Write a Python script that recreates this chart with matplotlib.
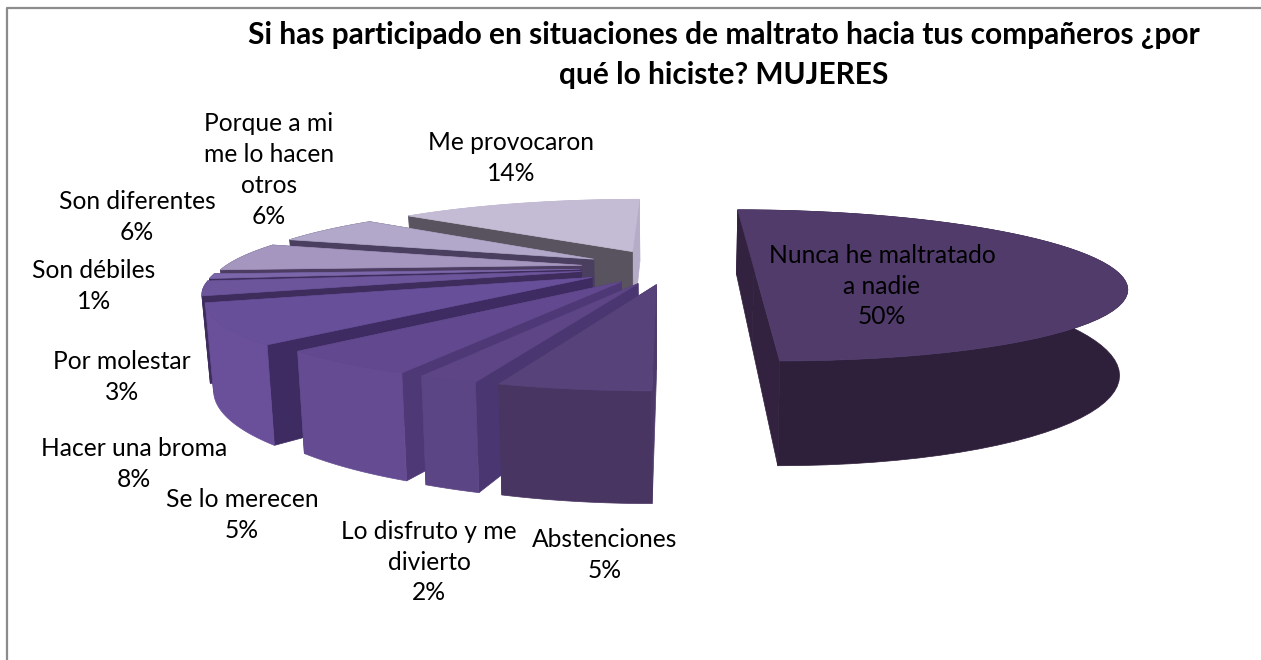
import numpy as np
import matplotlib
matplotlib.use("Agg")
import matplotlib.pyplot as plt
from matplotlib.patches import Polygon

plt.rcParams["font.family"] = ["Lato", "Open Sans", "DejaVu Sans"]

title = "Si has participado en situaciones de maltrato hacia tus compañeros ¿por\nqué lo hiciste? MUJERES"

# data, clockwise from 12 o'clock
names = ["Nunca he maltratado\na nadie", "Abstenciones", "Lo disfruto y me\ndivierto", "Se lo merecen",
         "Hacer una broma", "Por molestar", "Son débiles", "Son diferentes",
         "Porque a mi\nme lo hacen\notros", "Me provocaron"]
values = [50, 5, 2, 5, 8, 3, 1, 6, 6, 14]

# style per slice
top_colors = ["#503b6b", "#57427a", "#5e4686", "#62498f", "#684f99", "#6d559c", "#7a66a8", "#a496bf", "#b2a8c9", "#c4bcd4"]
wall_colors = ["#2e1f3b", "#483561", "#5c4585", "#654c92", "#6a4f9a", "#3d2c5c", "#3d2c5c", "#4c3c62", "#4a3f5e", "#c0b8d2"]
side_colors = ["#33223f", "#4d3a6a", "#4a3670", "#4e3876", "#3e2b62", "#3d2c5c", "#3d2c5c", "#4c3c62", "#4a3f5e", "#58535f"]
end_colors = side_colors[:-1] + ["#b5adc8"]
label_xy = [(882, 286), (605, 555), (429, 562), (242, 515), (134, 464), (122, 377),
            (94, 286), (137, 217), (269, 170), (511, 158)]

# perspective of the pie plane
vx, hy = 670, -34
persp = 0.2366
ax_scale, ay_scale = 358, 301.5
depth = 80
bottom_shrink = 0.982
explode = [0.234, 0.23, 0.23, 0.23, 0.25, 0.25, 0.25, 0.25, 0.25, 0.26]


def project(x, z):
    w = 1 / (1 + persp * z)
    return vx + ax_scale * x * w, hy + ay_scale * w, w


def slice_shapes(a0, a1, ex):
    mid = (a0 + a1) / 2
    ox, oz = ex * np.sin(mid), ex * np.cos(mid)
    t = np.linspace(a0, a1, 60)
    ax_, ay_, aw = project(ox + np.sin(t), oz + np.cos(t))
    cx, cy, cw = project(ox, oz)
    arc_top = np.column_stack([ax_, ay_])
    arc_bot = np.column_stack([vx + (ax_ - vx) * bottom_shrink, ay_ + depth * aw])
    c_top = (cx, cy)
    c_bot = (vx + (cx - vx) * bottom_shrink, cy + depth * cw)
    top = np.vstack([[c_top], arc_top])
    wall = np.vstack([arc_top, arc_bot[::-1]])
    side0 = np.array([c_top, arc_top[0], arc_bot[0], c_bot])
    side1 = np.array([c_top, arc_top[-1], arc_bot[-1], c_bot])
    return top, wall, side0, side1, np.cos(mid) > 0


fig = plt.figure(figsize=(12.61, 6.6), dpi=100)
ax = fig.add_axes([0, 0, 1, 1])
ax.set_xlim(0, 1261)
ax.set_ylim(660, 0)
ax.axis("off")

# chart frame
ax.plot([7, 7, 1261], [660, 8, 8], color="#8c8c8c", lw=1.6)

angles = np.cumsum([0] + values) / sum(values) * 2 * np.pi

# far slices first, so nearer ones cover them
order = [0, 9, 8, 7, 6, 5, 4, 3, 2, 1]
for i in order:
    top, wall, side0, side1, back = slice_shapes(angles[i], angles[i + 1], explode[i])
    wall_patch = Polygon(wall, fc=wall_colors[i], ec=wall_colors[i], lw=0.5)
    # a wall facing away goes under the side faces
    if back:
        ax.add_patch(wall_patch)
    ax.add_patch(Polygon(side1, fc=end_colors[i], ec=end_colors[i], lw=0.5))
    ax.add_patch(Polygon(side0, fc=side_colors[i], ec=side_colors[i], lw=0.5))
    if not back:
        ax.add_patch(wall_patch)
    ax.add_patch(Polygon(top, fc=top_colors[i], ec=top_colors[i], lw=0.5))

for name, v, (x, y) in zip(names, values, label_xy):
    ax.text(x, y, f"{name}\n{v}%", ha="center", va="center", fontsize=17.7, color="black", linespacing=1.42)

ax.text(724, 55, title, ha="center", va="center", fontsize=21.5, fontweight="bold", color="black", linespacing=1.48)

fig.savefig("out.png", dpi=100)
